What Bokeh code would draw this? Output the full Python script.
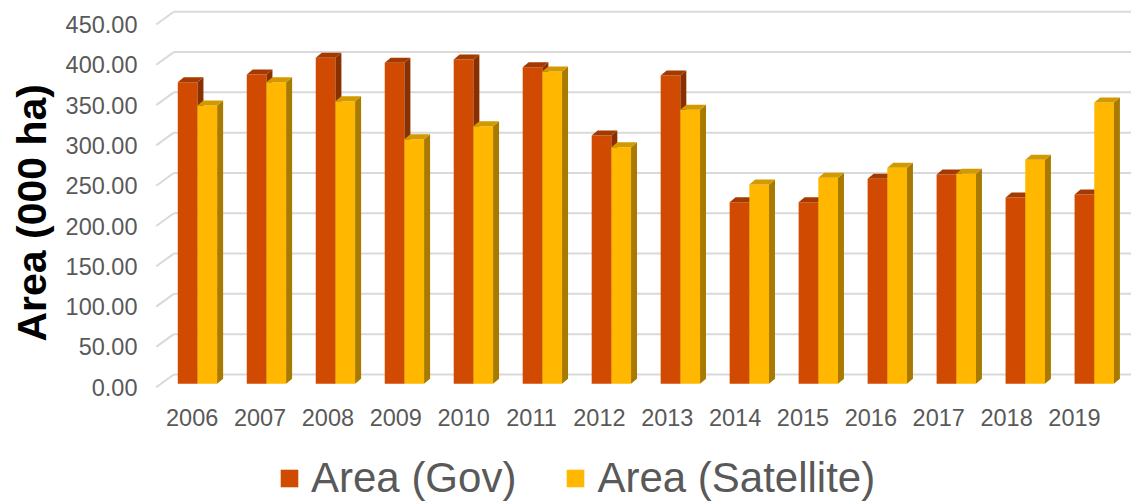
import numpy as np
from bokeh.plotting import figure
from bokeh.models import (Range1d, FixedTicker, NumeralTickFormatter,
                          BasicTickFormatter, Legend, LegendItem, Title)
from bokeh.embed import file_html
from bokeh.resources import INLINE

# ---- data -------------------------------------------------------------
years = [2006, 2007, 2008, 2009, 2010, 2011, 2012,
         2013, 2014, 2015, 2016, 2017, 2018, 2019]
area_gov = [374.2, 383.7, 404.5, 398.3, 402.4, 392.8, 308.1,
            382.5, 225.3, 225.3, 254.3, 259.6, 231.1, 234.9]
area_satellite = [345.3, 374.2, 350.6, 303.5, 319.6, 387.5, 293.5,
                  340.0, 247.3, 255.6, 268.0, 260.5, 277.9, 349.0]
value_ticks = [0, 50, 100, 150, 200, 250, 300, 350, 400, 450]
series_labels = ["Area (Gov)", "Area (Satellite)"]
y_title = "Area (000 ha)"

# ---- colours ----------------------------------------------------------
GOV = dict(front="#D04A02", top="#A53A01", side="#8A3000")
SAT = dict(front="#FFB700", top="#D39A00", side="#A87A00")
GRID = "#D9D9D9"
TEXT = "#595959"
FONT = "Liberation Sans"

# ---- oblique 3-D projection parameters (front plane = axis plane) -----
YEAR0 = years[0]
BAR_SHIFT = 0.078     # bar plane x shift relative to the axis plane
BAR_SCALE = 1.0164    # category spacing in the bar plane
BAR_W = 0.29          # width of one bar
BAR_LIFT = 4.2        # floor of the bar plane above the front floor
DEPTH_DX = 0.088      # bar depth, x
DEPTH_DY = 6.2        # bar depth, y
WALL_FRONT_X = 2005.47
WALL_BACK_X = 2005.729
BACK_DY = 15.8        # back wall lift of the gridlines

X_RANGE = (2005.386, 2019.84)
Y_RANGE = (-143.05, 479.78)

p = figure(width=1131, height=502,
           x_range=Range1d(*X_RANGE), y_range=Range1d(*Y_RANGE),
           output_backend="svg", toolbar_location=None,
           min_border_left=150, min_border_right=0,
           min_border_top=0, min_border_bottom=0)
p.outline_line_color = None
p.background_fill_color = "white"
p.border_fill_color = "white"
p.xgrid.visible = False
p.ygrid.visible = False

# ---- walls: side-wall diagonals and back-wall gridlines ---------------
vt = np.array(value_ticks, dtype=float)
n_t = len(vt)
p.segment(x0=[WALL_FRONT_X] * n_t, y0=vt,
          x1=[WALL_BACK_X] * n_t, y1=vt + BACK_DY,
          line_color=GRID, line_width=2)
p.segment(x0=[WALL_BACK_X] * n_t, y0=vt + BACK_DY,
          x1=[X_RANGE[1]] * n_t, y1=vt + BACK_DY,
          line_color=GRID, line_width=2)

# ---- 3-D bars ----------------------------------------------------------
k = np.array(years, dtype=float) - YEAR0
centers = YEAR0 + BAR_SHIFT + k * BAR_SCALE


def draw_bars(left, values, colors):
    vals = np.array(values, dtype=float)
    right = left + BAR_W
    bottom = np.full(len(vals), BAR_LIFT)
    top = vals + BAR_LIFT
    front = p.quad(left=left, right=right, bottom=bottom, top=top,
                   fill_color=colors["front"], line_color=None)
    side_xs = [[r, r + DEPTH_DX, r + DEPTH_DX, r] for r in right]
    side_ys = [[b, b + DEPTH_DY, t + DEPTH_DY, t] for b, t in zip(bottom, top)]
    p.patches(side_xs, side_ys, fill_color=colors["side"], line_color=None)
    top_xs = [[l, r, r + DEPTH_DX, l + DEPTH_DX] for l, r in zip(left, right)]
    top_ys = [[t, t, t + DEPTH_DY, t + DEPTH_DY] for t in top]
    p.patches(top_xs, top_ys, fill_color=colors["top"], line_color=None)
    return front


gov_r = draw_bars(centers - BAR_W, area_gov, GOV)
sat_r = draw_bars(centers, area_satellite, SAT)

# ---- axes --------------------------------------------------------------
xa = p.xaxis[0]
xa.ticker = FixedTicker(ticks=years)
xa.formatter = BasicTickFormatter(use_scientific=False)
xa.fixed_location = 0
xa.axis_line_color = None
xa.major_tick_line_color = None
xa.minor_tick_line_color = None
xa.major_label_standoff = 16
xa.major_label_text_font = FONT
xa.major_label_text_font_size = "23.5px"
xa.major_label_text_color = TEXT

ya = p.yaxis[0]
ya.ticker = FixedTicker(ticks=value_ticks)
ya.formatter = NumeralTickFormatter(format="0.00")
ya.axis_line_color = None
ya.major_tick_line_color = None
ya.minor_tick_line_color = None
ya.major_tick_out = 0
ya.major_label_standoff = 13
ya.major_label_text_font = FONT
ya.major_label_text_font_size = "23.5px"
ya.major_label_text_color = TEXT

# value-axis title, anchored above the bottom edge of the plot area
p.add_layout(Title(text=y_title, align="left", offset=161,
                   vertical_align="top", standoff=12,
                   text_font=FONT, text_font_size="41px",
                   text_font_style="bold", text_color="black"), "left")

# ---- legend ------------------------------------------------------------
legend = Legend(items=[LegendItem(label=series_labels[0], renderers=[gov_r]),
                       LegendItem(label=series_labels[1], renderers=[sat_r])],
                orientation="horizontal", location=(128, 0),
                padding=0, margin=0, spacing=48,
                glyph_width=22, glyph_height=22, label_standoff=11,
                border_line_color=None, background_fill_alpha=0,
                label_text_font=FONT, label_text_font_size="42px",
                label_text_color=TEXT)
p.add_layout(legend)

open("out.html", "w").write(file_html(p, INLINE))
